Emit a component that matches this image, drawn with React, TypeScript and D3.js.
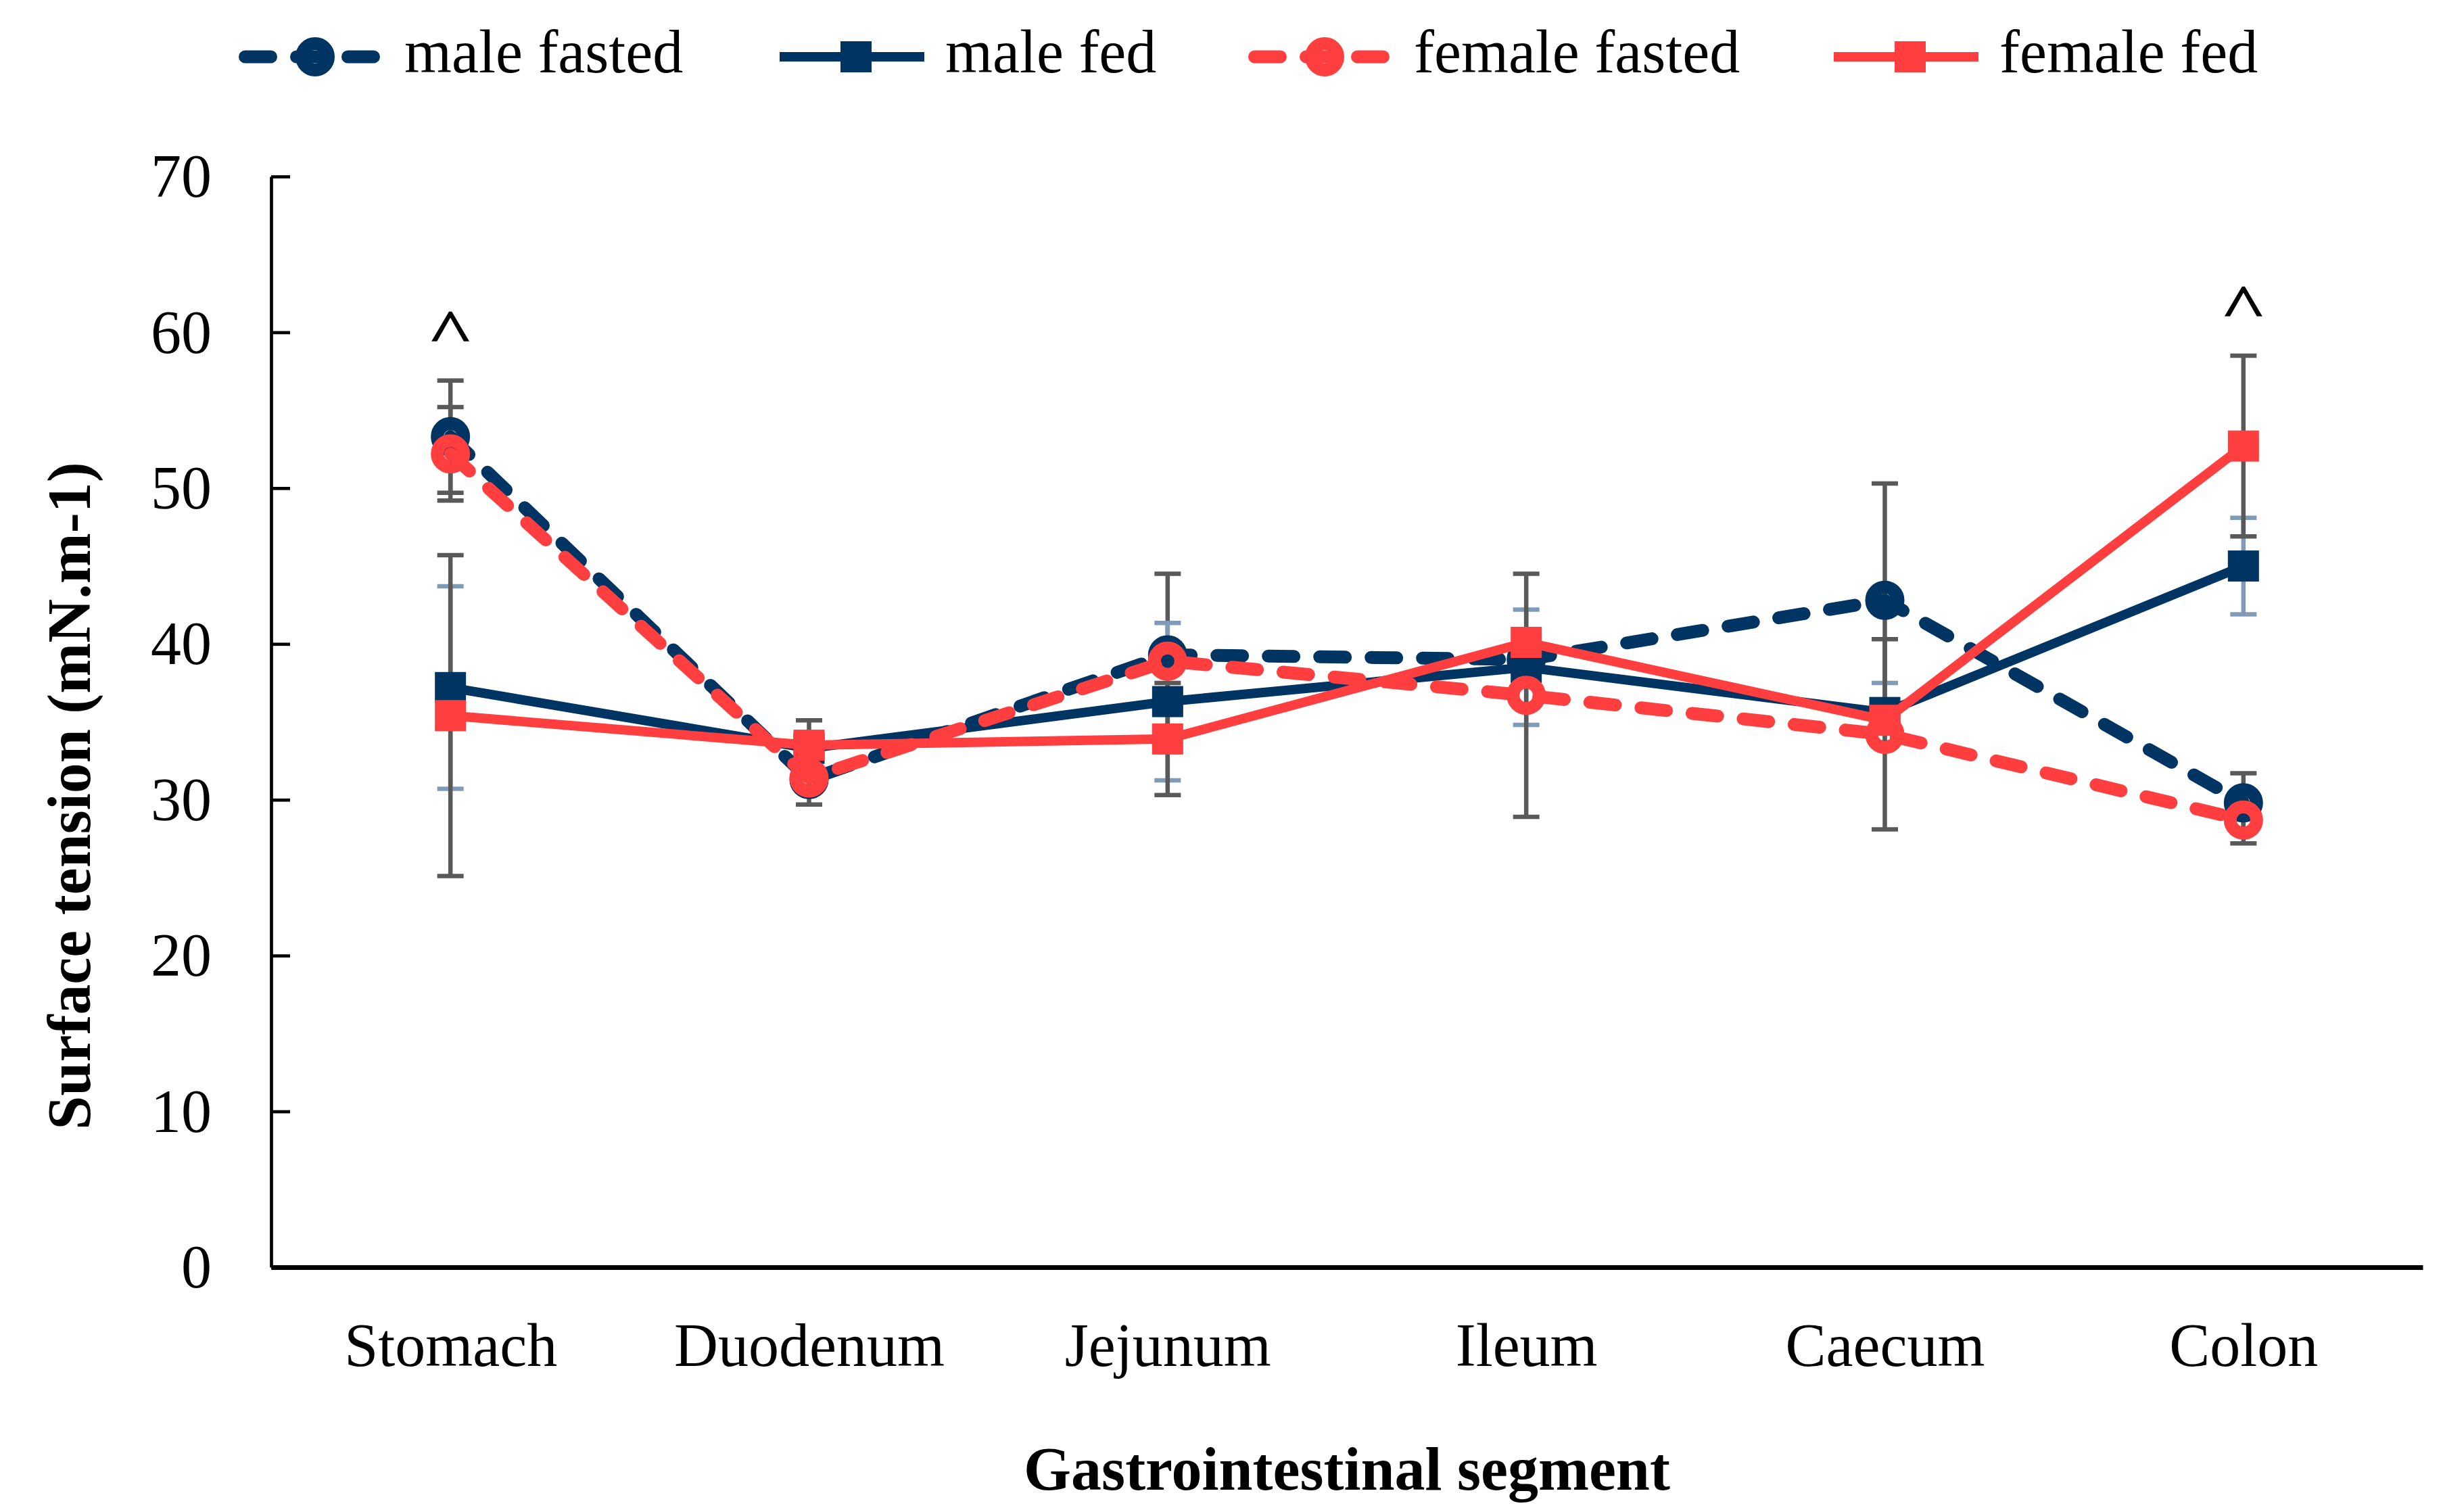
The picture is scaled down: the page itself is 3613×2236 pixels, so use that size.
import React, { useEffect, useRef } from 'react'
import * as d3 from 'd3'

// data (mN.m-1)
const segments = ['Stomach', 'Duodenum', 'Jejunum', 'Ileum', 'Caecum', 'Colon']
const yTicks = [0, 10, 20, 30, 40, 50, 60, 70]

const maleFasted = [53.3, 31.3, 39.3, 39.0, 42.8, 29.8]
const maleFastedErr = [3.6, 1.6, 5.2, 0.8, 7.5, 1.9]
const maleFed = [37.2, 33.3, 36.3, 38.5, 35.6, 45.0]
const maleFedErr = [6.5, 0.8, 5.05, 3.7, 1.9, 3.1]
const femaleFasted = [52.2, 31.4, 38.9, 36.7, 34.2, 28.7]
const femaleFastedErr = [3.0, 0.8, 0.8, 7.8, 6.1, 1.5]
const femaleFed = [35.4, 33.5, 33.9, 40.1, 35.1, 52.7]
const femaleFedErr = [10.3, 1.6, 3.6, 0.8, 0.8, 5.8]

// significance marks
const annotations = [
  { segment: 'Stomach', label: '^' },
  { segment: 'Colon', label: '^' },
]

const NAVY = '#003462'
const RED = '#FF3F3F'
const GREY = '#595959'
const LIGHT = '#809BB8'
const FONT = '"Liberation Serif", "Times New Roman", serif'

const series = [
  { name: 'male fasted', values: maleFasted, err: maleFastedErr, color: NAVY, dashed: true, marker: 'circle', errColor: GREY },
  { name: 'male fed', values: maleFed, err: maleFedErr, color: NAVY, dashed: false, marker: 'square', errColor: LIGHT },
  { name: 'female fasted', values: femaleFasted, err: femaleFastedErr, color: RED, dashed: true, marker: 'circle', errColor: GREY },
  { name: 'female fed', values: femaleFed, err: femaleFedErr, color: RED, dashed: false, marker: 'square', errColor: GREY },
]

// layout
const W = 3613
const H = 2236
const left = 401
const right = 3583
const top = 261
const bottom = 1874
const legendX = [353, 1153, 1846, 2712]
const legendY = 84

const x = d3.scalePoint().domain(segments).range([left, right]).padding(0.5)
const y = d3.scaleLinear().domain([0, 70]).range([bottom, top])

const Marker = ({ type, cx, cy, color }) =>
  type === 'circle' ? (
    <circle cx={cx} cy={cy} r={19.5} fill="none" stroke={color} strokeWidth={19} />
  ) : (
    <rect x={cx - 23} y={cy - 23} width={46} height={46} fill={color} />
  )

const App = () => {
  const yAxisRef = useRef(null)
  const xAxisRef = useRef(null)

  useEffect(() => {
    const gy = d3.select(yAxisRef.current)
    gy.call(d3.axisLeft(y).tickValues(yTicks).tickSizeInner(-28).tickSizeOuter(0).tickPadding(88))
    gy.attr('font-size', 90).attr('font-family', FONT)
    gy.select('.domain').attr('stroke', '#000').attr('stroke-width', 4.7)
    gy.selectAll('.tick line').attr('stroke', '#000').attr('stroke-width', 4.7)
    gy.selectAll('.tick text').attr('fill', '#000').attr('dy', '0.33em')

    const gx = d3.select(xAxisRef.current)
    gx.call(d3.axisBottom(x).tickSize(0).tickPadding(82))
    gx.attr('font-size', 90).attr('font-family', FONT)
    gx.select('.domain').attr('stroke', '#000').attr('stroke-width', 7)
    gx.selectAll('.tick text').attr('fill', '#000')
  }, [])

  const line = d3
    .line<number>()
    .x((_, i) => x(segments[i]))
    .y((d) => y(d))

  return (
    <svg
      width={W}
      height={H}
      style={{ position: 'absolute', left: 0, top: 0, background: '#fff' }}
      fontFamily={FONT}
    >
      <rect width={W} height={H} fill="#fff" />

      {/* legend */}
      {series.map((s, i) => {
        const x0 = legendX[i]
        return (
          <g key={s.name}>
            {s.dashed ? (
              <line
                x1={x0 + 9.5}
                x2={x0 + 199.5}
                y1={legendY}
                y2={legendY}
                stroke={s.color}
                strokeWidth={19}
                strokeDasharray="38 38"
                strokeLinecap="round"
              />
            ) : (
              <line x1={x0} x2={x0 + 214} y1={legendY} y2={legendY} stroke={s.color} strokeWidth={14} />
            )}
            <Marker type={s.marker} cx={x0 + 113} cy={legendY} color={s.color} />
            <text x={x0 + 245} y={107} fontSize={90} fill="#000">
              {s.name}
            </text>
          </g>
        )
      })}

      {/* axes */}
      <g ref={yAxisRef} transform={`translate(${left},0)`} />
      <g ref={xAxisRef} transform={`translate(0,${bottom})`} />

      {/* error bars */}
      {series.map((s) => (
        <g key={`err-${s.name}`} stroke={s.errColor} strokeWidth={6.5}>
          {s.values.map((v, i) => {
            const cx = x(segments[i])
            const y1 = y(v + s.err[i])
            const y2 = y(v - s.err[i])
            return (
              <g key={i}>
                <line x1={cx} x2={cx} y1={y1} y2={y2} />
                <line x1={cx - 19.5} x2={cx + 19.5} y1={y1} y2={y1} />
                <line x1={cx - 19.5} x2={cx + 19.5} y1={y2} y2={y2} />
              </g>
            )
          })}
        </g>
      ))}

      {/* lines and markers */}
      {series.map((s) => (
        <g key={`line-${s.name}`}>
          <path
            d={line(s.values)}
            fill="none"
            stroke={s.color}
            strokeWidth={s.dashed ? 19 : 14}
            strokeDasharray={s.dashed ? '38 38' : null}
            strokeLinecap={s.dashed ? 'round' : 'butt'}
            strokeLinejoin="round"
          />
          {s.values.map((v, i) => (
            <Marker key={i} type={s.marker} cx={x(segments[i])} cy={y(v)} color={s.color} />
          ))}
        </g>
      ))}

      {/* significance marks above the highest error bar */}
      {annotations.map((a) => {
        const i = segments.indexOf(a.segment)
        const maxTop = d3.max(series, (s) => s.values[i] + s.err[i])
        return (
          <text
            key={a.segment}
            transform={`translate(${x(a.segment)},${y(maxTop) - 42}) scale(1.3,1)`}
            fontSize={92}
            textAnchor="middle"
            fill="#000"
            stroke="#000"
            strokeWidth={1.5}
          >
            {a.label}
          </text>
        )
      })}

      {/* axis titles */}
      <text x={(left + right) / 2} y={2203} fontSize={90} fontWeight="bold" textAnchor="middle" fill="#000">
        Gastrointestinal segment
      </text>
      <text
        transform="translate(133,1177) rotate(-90)"
        fontSize={90}
        fontWeight="bold"
        textAnchor="middle"
        fill="#000"
      >
        Surface tension (mN.m-1)
      </text>
    </svg>
  )
}

export default App
